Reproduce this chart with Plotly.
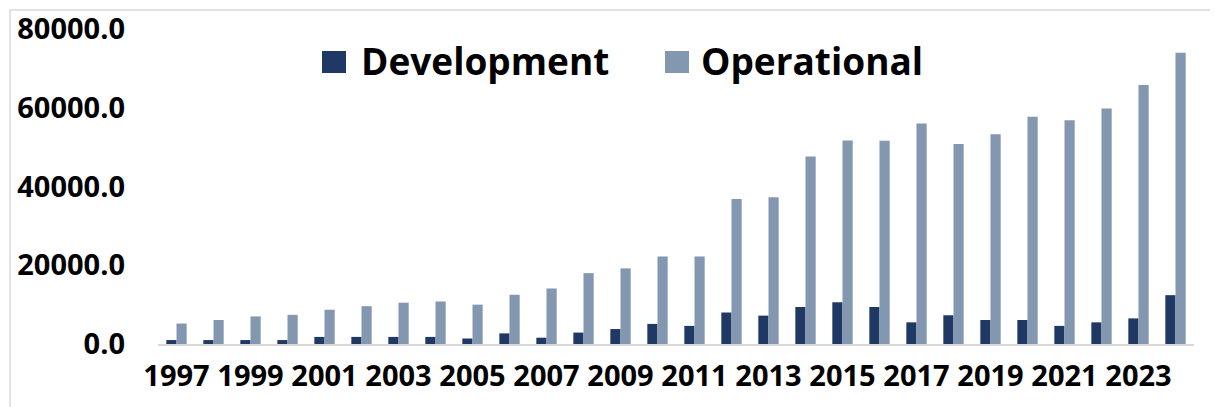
import plotly.graph_objects as go

years = [str(y) for y in range(1997, 2025)]
development = [1000, 1000, 1000, 1000, 1800, 1800, 1800, 1800, 1400, 2700,
               1600, 2900, 3800, 5100, 4600, 8000, 7200, 9400, 10600, 9400,
               5500, 7300, 6100, 6100, 4600, 5500, 6500, 12400]
operational = [5200, 6100, 7000, 7400, 8700, 9600, 10500, 10800, 10000, 12500,
               14100, 18000, 19200, 22200, 22200, 36800, 37300, 47600, 51700, 51600,
               56000, 50800, 53300, 57700, 56800, 59800, 65800, 74000]
series_names = ["Development", "Operational"]
series_colors = ["#203864", "#8497B0"]
y_ticks = [0, 20000, 40000, 60000, 80000]
x_ticks = years[::2]

FONT = "Open Sans"
# page body has an 8px margin, so the figure is sized to the visible area
W, H = 1210, 399
L, R, T, B = 150, 24, 21, 63
pw, ph = W - L - R, H - T - B

def px_x(p):
    return (p - L) / pw

def px_y(p):
    return 1 - (p - T) / ph

fig = go.Figure()
for name, vals, col in zip(series_names, [development, operational], series_colors):
    fig.add_trace(go.Bar(x=years, y=vals, name=name, marker=dict(color=col, line=dict(width=0))))

# legend: swatches + labels
swatch_x = [314, 657]
label_x = [351, 691]
for name, col, sx, lx in zip(series_names, series_colors, swatch_x, label_x):
    fig.add_shape(type="rect", xref="paper", yref="paper",
                  x0=px_x(sx), x1=px_x(sx + 24), y0=px_y(43), y1=px_y(65),
                  line=dict(width=0), fillcolor=col)
    fig.add_annotation(
        xref="paper", yref="paper", x=px_x(lx), y=px_y(53),
        xanchor="left", yanchor="middle", showarrow=False,
        text=f"<b>{name}</b>",
        font=dict(family=FONT, size=37, color="#000000"),
    )

# outer light border
fig.add_shape(type="rect", xref="paper", yref="paper",
              x0=px_x(2), x1=px_x(1208), y0=px_y(2), y1=px_y(420),
              line=dict(color="#D9D9D9", width=1.5), fillcolor="rgba(0,0,0,0)", layer="below")

fig.update_layout(
    width=W, height=H,
    margin=dict(l=L, r=R, t=T, b=B, autoexpand=False),
    paper_bgcolor="white", plot_bgcolor="white",
    barmode="group", bargap=0.45, bargroupgap=0,
    showlegend=False,
    font=dict(family=FONT, color="#000000"),
)
fig.update_xaxes(
    type="category", tickmode="array", tickvals=x_ticks, ticktext=x_ticks,
    showline=True, linecolor="#D9D9D9", linewidth=1.5, showgrid=False,
    ticks="", ticklabelstandoff=5, automargin=False,
    tickfont=dict(family=FONT, size=29, weight="bold", color="#000000"),
)
fig.update_yaxes(
    range=[0, 80000], tickmode="array", tickvals=y_ticks, tickformat=".1f",
    showline=False, showgrid=False, zeroline=False, ticks="",
    ticklabelstandoff=32, automargin=False,
    tickfont=dict(family=FONT, size=29, weight="bold", color="#000000"),
)

fig.write_html("out.html")
